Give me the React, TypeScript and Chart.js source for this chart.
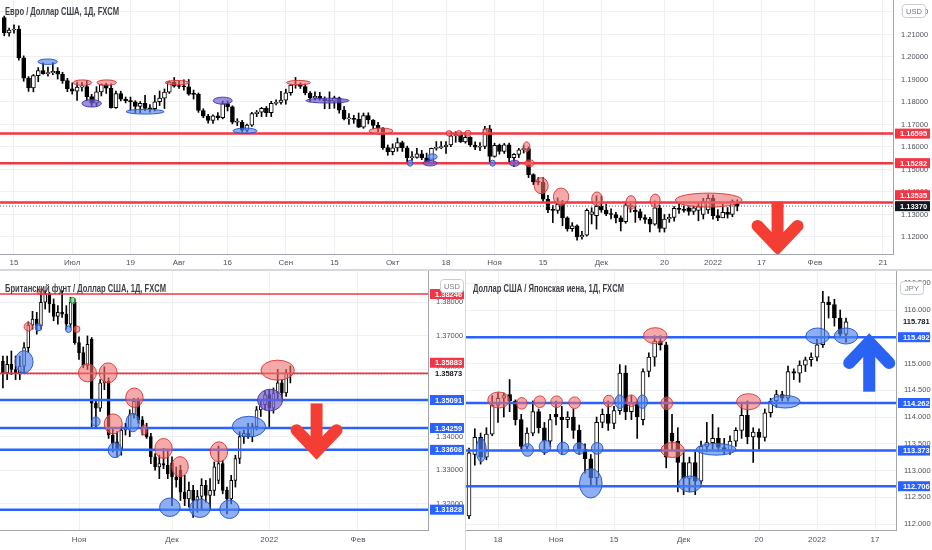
import React, { useEffect, useRef } from "react";
import { Chart, registerables } from "chart.js";

Chart.register(...registerables);

// ================= DATA =================
// day index: 0 = 15 Jun 2021, one step per trading day
// ---- EUR/USD (OHLC from day -2) ----
const eurFirstDay = -2;
const eurOHLC: number[][] = [
  [1.2175, 1.2182, 1.2094, 1.2107], [1.2107, 1.2128, 1.2092, 1.212], [1.212, 1.2143, 1.2106, 1.2124],
  [1.2124, 1.2138, 1.1986, 1.1996], [1.1996, 1.2005, 1.1892, 1.1906], [1.1906, 1.1913, 1.1847, 1.1862],
  [1.1862, 1.1922, 1.1845, 1.1917], [1.1917, 1.1953, 1.189, 1.194], [1.194, 1.1974, 1.1924, 1.1926],
  [1.1926, 1.1955, 1.1915, 1.193], [1.193, 1.1976, 1.1921, 1.1936], [1.1936, 1.1953, 1.1902, 1.1924],
  [1.1924, 1.1932, 1.1883, 1.1895], [1.1895, 1.1905, 1.1846, 1.1858], [1.1858, 1.1885, 1.1835, 1.1848],
  [1.1848, 1.1888, 1.1807, 1.1866], [1.1866, 1.1887, 1.1848, 1.1868], [1.1868, 1.1895, 1.1807, 1.1824],
  [1.1824, 1.1834, 1.1781, 1.1795], [1.1795, 1.1868, 1.1782, 1.1845], [1.1845, 1.188, 1.1827, 1.1877],
  [1.1877, 1.1884, 1.1838, 1.1861], [1.1861, 1.1881, 1.1772, 1.1775], [1.1775, 1.1848, 1.1771, 1.1837],
  [1.1837, 1.1848, 1.1805, 1.1812], [1.1812, 1.1822, 1.1796, 1.1806], [1.1806, 1.1822, 1.1764, 1.1801],
  [1.1801, 1.1806, 1.1753, 1.178], [1.178, 1.1802, 1.1752, 1.1794], [1.1794, 1.183, 1.1761, 1.1771],
  [1.1771, 1.1788, 1.1755, 1.177], [1.177, 1.1829, 1.176, 1.1801], [1.1801, 1.1849, 1.1784, 1.1817],
  [1.1817, 1.1858, 1.1771, 1.1844], [1.1844, 1.1893, 1.1838, 1.1888], [1.1888, 1.1909, 1.1866, 1.187],
  [1.187, 1.1892, 1.186, 1.1869], [1.1869, 1.1899, 1.1853, 1.1867], [1.1867, 1.19, 1.183, 1.1835],
  [1.1835, 1.1853, 1.1813, 1.1834], [1.1834, 1.184, 1.1754, 1.1762], [1.1762, 1.177, 1.173, 1.1737],
  [1.1737, 1.1745, 1.1706, 1.1718], [1.1718, 1.1743, 1.1705, 1.1739], [1.1739, 1.1753, 1.172, 1.173],
  [1.173, 1.1804, 1.1725, 1.1793], [1.1793, 1.1805, 1.176, 1.1778], [1.1778, 1.1783, 1.1703, 1.171],
  [1.171, 1.1726, 1.1695, 1.171], [1.171, 1.1718, 1.1665, 1.1675], [1.1675, 1.1702, 1.1664, 1.1697],
  [1.1697, 1.1754, 1.1691, 1.1748], [1.1748, 1.1762, 1.1735, 1.1755], [1.1755, 1.1776, 1.1735, 1.1772],
  [1.1772, 1.178, 1.1735, 1.1752], [1.1752, 1.1803, 1.1735, 1.1794], [1.1794, 1.181, 1.1787, 1.1798],
  [1.1798, 1.1847, 1.179, 1.1808], [1.1808, 1.1857, 1.179, 1.1841], [1.1841, 1.1878, 1.183, 1.1875],
  [1.1875, 1.1909, 1.1861, 1.188], [1.188, 1.1885, 1.186, 1.1869], [1.1869, 1.188, 1.1832, 1.184],
  [1.184, 1.1846, 1.1801, 1.1818], [1.1818, 1.1845, 1.1808, 1.1825], [1.1825, 1.1843, 1.1808, 1.1813],
  [1.1813, 1.1823, 1.177, 1.1805], [1.1805, 1.1845, 1.177, 1.1804], [1.1804, 1.1826, 1.1772, 1.1818],
  [1.1818, 1.1822, 1.175, 1.1764], [1.1764, 1.178, 1.172, 1.1725], [1.1725, 1.1749, 1.17, 1.1726],
  [1.1726, 1.1741, 1.1705, 1.1723], [1.1723, 1.1751, 1.1686, 1.1688], [1.1688, 1.1751, 1.1683, 1.174],
  [1.174, 1.1752, 1.1703, 1.172], [1.172, 1.1722, 1.1681, 1.1696], [1.1696, 1.171, 1.1667, 1.1683],
  [1.1683, 1.1686, 1.1589, 1.1597], [1.1597, 1.1609, 1.1563, 1.1579], [1.1579, 1.1614, 1.1565, 1.1596],
  [1.1596, 1.164, 1.1581, 1.162], [1.162, 1.1626, 1.158, 1.1596], [1.1596, 1.1604, 1.1529, 1.1553],
  [1.1553, 1.158, 1.154, 1.1554], [1.1554, 1.1594, 1.155, 1.157], [1.157, 1.1585, 1.1544, 1.1552],
  [1.1552, 1.1573, 1.1524, 1.153], [1.153, 1.1595, 1.1525, 1.1594], [1.1594, 1.1624, 1.1586, 1.1597],
  [1.1597, 1.1624, 1.1593, 1.16], [1.16, 1.1624, 1.1571, 1.1609], [1.1609, 1.1669, 1.1601, 1.165],
  [1.165, 1.1668, 1.1621, 1.1655], [1.1655, 1.1666, 1.162, 1.1622], [1.1622, 1.1665, 1.1617, 1.1643],
  [1.1643, 1.1646, 1.1602, 1.1609], [1.1609, 1.1623, 1.1588, 1.1599], [1.1599, 1.162, 1.1584, 1.1603],
  [1.1603, 1.1692, 1.1593, 1.1681], [1.1681, 1.1696, 1.1535, 1.1558], [1.1558, 1.1617, 1.1555, 1.1607],
  [1.1607, 1.1613, 1.1568, 1.158], [1.158, 1.1616, 1.1571, 1.161], [1.161, 1.1617, 1.153, 1.1553],
  [1.1553, 1.1571, 1.1513, 1.1567], [1.1567, 1.1594, 1.1553, 1.1587], [1.1587, 1.1608, 1.1573, 1.1593],
  [1.1593, 1.16, 1.1464, 1.1477], [1.1477, 1.1481, 1.1433, 1.1445], [1.1445, 1.1464, 1.1432, 1.1444],
  [1.1444, 1.1464, 1.1358, 1.1368], [1.1368, 1.1385, 1.1308, 1.132], [1.132, 1.134, 1.1264, 1.1318],
  [1.1318, 1.1374, 1.1305, 1.1345], [1.135, 1.1363, 1.125, 1.1285], [1.1285, 1.129, 1.1226, 1.1237],
  [1.1237, 1.1264, 1.1225, 1.125], [1.125, 1.1254, 1.1186, 1.12], [1.12, 1.1225, 1.119, 1.1208],
  [1.1208, 1.1325, 1.1204, 1.1318], [1.13, 1.133, 1.1258, 1.1312], [1.1295, 1.1383, 1.1235, 1.1336],
  [1.1336, 1.1382, 1.131, 1.132], [1.132, 1.1345, 1.1295, 1.1303], [1.1303, 1.1325, 1.128, 1.13],
  [1.13, 1.131, 1.1262, 1.1285], [1.1285, 1.1294, 1.1227, 1.1268], [1.1268, 1.1355, 1.1261, 1.1343],
  [1.1335, 1.1355, 1.131, 1.1342], [1.1318, 1.1335, 1.1265, 1.1313], [1.1313, 1.1324, 1.1275, 1.1286],
  [1.1286, 1.1298, 1.126, 1.1278], [1.1278, 1.1287, 1.1222, 1.1257], [1.1257, 1.136, 1.1252, 1.133],
  [1.133, 1.134, 1.1222, 1.1238], [1.1238, 1.13, 1.1222, 1.128], [1.128, 1.1302, 1.1265, 1.1287],
  [1.1287, 1.1335, 1.127, 1.1327], [1.1327, 1.1345, 1.1305, 1.1322], [1.1322, 1.1339, 1.131, 1.1318],
  [1.133, 1.1335, 1.1297, 1.1314], [1.1314, 1.1338, 1.13, 1.133], [1.1318, 1.135, 1.1272, 1.1335],
  [1.13, 1.1372, 1.128, 1.136], [1.132, 1.1388, 1.1305, 1.1372], [1.1372, 1.1386, 1.1279, 1.1295],
  [1.1295, 1.1322, 1.1272, 1.1285], [1.1285, 1.1346, 1.1285, 1.131], [1.131, 1.1331, 1.1284, 1.13],
  [1.13, 1.1365, 1.129, 1.136], [1.1345, 1.1365, 1.1316, 1.1337],
];
const eurTimeTicks = [0, 12, 24, 34, 44, 56, 66, 78, 89, 99, 109, 121, 134, 144, 154, 165, 179];
const eurTimeLabels = ["15", "Июл", "19", "Авг", "16", "Сен", "15", "Окт", "18", "Ноя", "15", "Дек", "20", "2022", "17", "Фев", "21"];
const eurPriceTicks = [1.12, 1.13, 1.14, 1.15, 1.16, 1.17, 1.18, 1.19, 1.2, 1.21, 1.22];
const eurRedLevels = [1.16595, 1.15282, 1.13535];
const eurLastPrice = 1.1337;
// [day, price, rx px, ry px, kind]
const eurEllipses: any[] = [
  [6.94, 1.1979, 9.7, 2.7, "b"], [14.1, 1.1886, 9.3, 2.7, "r"], [16.0, 1.1794, 9.7, 3.7, "p"],
  [19.1, 1.1886, 9.7, 2.7, "r"], [27.0, 1.1757, 19, 2.4, "b"], [33.6, 1.1886, 12, 2.2, "r"],
  [43.0, 1.1806, 9.5, 3.5, "p"], [47.6, 1.1672, 12, 2.7, "b"], [58.6, 1.1886, 12, 2.2, "r"],
  [64.6, 1.1806, 21.5, 2.4, "p"], [75.6, 1.1671, 12, 3, "r"], [81.6, 1.1528, 2.7, 3, "b"],
  [85.7, 1.1528, 7, 2.7, "p"], [86.2, 1.1557, 4.7, 2.7, "b"], [89.6, 1.1661, 2.7, 2.7, "r"],
  [91.7, 1.1661, 2.7, 2.7, "r"], [93.5, 1.1661, 3, 3, "r"], [97.4, 1.1668, 3.7, 3.3, "r"],
  [98.6, 1.1528, 2.7, 3, "b"], [103.1, 1.1528, 5, 3, "p"], [105.6, 1.1601, 3.3, 5, "r"],
  [106.2, 1.1528, 4.7, 3.3, "r"], [108.6, 1.1428, 7, 8, "r"], [112.7, 1.1379, 7.7, 8.7, "r"],
  [120.1, 1.1369, 5.3, 7, "r"], [127.1, 1.1354, 5, 6.7, "r"], [132.1, 1.1361, 5, 6.7, "r"],
  [143.1, 1.1364, 33.3, 7, "r"],
];
const eurArrow = [157.3, 1.1357, 1.1156]; // day, tail price, tip price

// ---- GBP/USD (OHLC from day 81) ----
const gbpFirstDay = 81;
const gbpOHLC: number[][] = [
  [1.3625, 1.364, 1.3545, 1.359], [1.359, 1.364, 1.357, 1.3615], [1.3615, 1.3655, 1.3585, 1.36],
  [1.36, 1.364, 1.357, 1.359], [1.359, 1.364, 1.357, 1.361], [1.361, 1.368, 1.359, 1.3665],
  [1.3665, 1.3742, 1.365, 1.3732], [1.3732, 1.3773, 1.372, 1.375], [1.375, 1.377, 1.3705, 1.373],
  [1.373, 1.3832, 1.372, 1.38], [1.38, 1.3834, 1.378, 1.3825], [1.3825, 1.383, 1.377, 1.3795],
  [1.3795, 1.381, 1.3745, 1.3758], [1.3758, 1.379, 1.3735, 1.377], [1.377, 1.3835, 1.3755, 1.3765],
  [1.3765, 1.379, 1.372, 1.3735], [1.3735, 1.3815, 1.3725, 1.38], [1.38, 1.381, 1.3675, 1.368],
  [1.368, 1.3697, 1.363, 1.365], [1.365, 1.3667, 1.3605, 1.3612], [1.3612, 1.37, 1.36, 1.3675],
  [1.369, 1.3695, 1.3425, 1.35], [1.35, 1.351, 1.3425, 1.3485], [1.3485, 1.357, 1.3475, 1.356],
  [1.356, 1.3608, 1.354, 1.3565], [1.3565, 1.3575, 1.3395, 1.3405], [1.3405, 1.3425, 1.3355, 1.338],
  [1.3385, 1.3415, 1.334, 1.3362], [1.3362, 1.343, 1.3345, 1.342], [1.342, 1.344, 1.3405, 1.3425],
  [1.3425, 1.348, 1.34, 1.3465], [1.3465, 1.3514, 1.3455, 1.3505], [1.3505, 1.3515, 1.344, 1.345],
  [1.345, 1.346, 1.3405, 1.3425], [1.3425, 1.344, 1.3395, 1.34], [1.34, 1.341, 1.332, 1.334],
  [1.334, 1.335, 1.33, 1.331], [1.331, 1.3345, 1.3275, 1.332], [1.332, 1.3365, 1.3305, 1.3315],
  [1.3315, 1.336, 1.3275, 1.329], [1.3322, 1.334, 1.3195, 1.328], [1.328, 1.331, 1.325, 1.3272],
  [1.33, 1.3315, 1.321, 1.3235], [1.3235, 1.3285, 1.3195, 1.3215], [1.3215, 1.3265, 1.319, 1.324],
  [1.324, 1.3255, 1.316, 1.321], [1.321, 1.324, 1.3175, 1.3222], [1.3222, 1.3275, 1.3185, 1.3255],
  [1.3255, 1.327, 1.3205, 1.3225], [1.3225, 1.3275, 1.318, 1.324], [1.324, 1.3325, 1.3225, 1.331],
  [1.327, 1.3372, 1.326, 1.332], [1.332, 1.333, 1.323, 1.324], [1.324, 1.325, 1.317, 1.3215],
  [1.3215, 1.3285, 1.32, 1.327], [1.327, 1.3345, 1.325, 1.3335], [1.3335, 1.3415, 1.332, 1.34],
  [1.34, 1.342, 1.338, 1.341], [1.341, 1.344, 1.3395, 1.34], [1.34, 1.344, 1.3385, 1.343],
  [1.343, 1.349, 1.342, 1.348], [1.348, 1.3505, 1.346, 1.3495], [1.3495, 1.3535, 1.348, 1.3525],
  [1.3525, 1.354, 1.343, 1.3485], [1.3485, 1.3545, 1.347, 1.353], [1.353, 1.36, 1.351, 1.356],
  [1.356, 1.357, 1.3505, 1.353], [1.353, 1.36, 1.352, 1.359], [1.359, 1.361, 1.356, 1.3587],
];
const gbpTimeTicks = [99, 121, 144, 165];
const gbpTimeLabels = ["Ноя", "Дек", "2022", "Фев"];
const gbpPriceTicks = [1.32, 1.33, 1.34, 1.35, 1.36, 1.37, 1.38];
const gbpRedLevels = [1.38246, 1.35883];
const gbpBlueLevels = [1.35091, 1.34259, 1.33608, 1.31828];
const gbpLastPrice = 1.35873;
const gbpEllipses: any[] = [
  [86.0, 1.3623, 9, 11, "b"], [87.0, 1.3727, 4.2, 4.2, "r"], [89.4, 1.3726, 3.3, 3.7, "b"],
  [89.9, 1.3832, 3.7, 2.5, "r"], [96.5, 1.372, 3, 3.3, "b"], [97.5, 1.3805, 2.7, 3.3, "g"],
  [98.5, 1.372, 3, 3.3, "r"], [101.0, 1.359, 9, 9, "r"], [103.0, 1.3445, 4.2, 4.7, "b"],
  [105.9, 1.359, 9, 10, "r"], [107.1, 1.3438, 9, 10, "r"], [107.5, 1.336, 6.7, 7.5, "b"],
  [111.7, 1.3442, 6.7, 9.2, "b"], [112.1, 1.3516, 8.7, 9.7, "r"], [114.4, 1.342, 3, 5, "r"],
  [119.0, 1.3365, 8.7, 10, "r"], [120.5, 1.319, 10.3, 9.2, "b"], [122.9, 1.3311, 8.3, 10, "r"],
  [127.6, 1.3187, 10.3, 9.2, "b"], [132.1, 1.3355, 8.7, 10, "r"], [134.6, 1.3184, 9.7, 9.2, "b"],
  [139.2, 1.343, 16.7, 10.3, "b"], [144.2, 1.3509, 12.5, 10.8, "p"], [146.0, 1.3598, 16.7, 10, "r"],
];
const gbpArrow = [155.2, 1.3499, 1.3357];

// ---- USD/JPY (OHLC from day 84) ----
const jpyFirstDay = 84;
const jpyOHLC: number[][] = [
  [112.15, 113.42, 112.1, 113.33], [113.3, 113.78, 113.1, 113.62], [113.62, 113.7, 113.12, 113.25],
  [113.25, 113.8, 113.2, 113.68], [113.68, 114.4, 113.65, 114.22], [114.22, 114.45, 113.9, 114.35],
  [114.35, 114.45, 114.0, 114.4], [114.42, 114.7, 114.1, 114.3], [114.3, 114.32, 113.85, 113.95],
  [113.95, 114.05, 113.4, 113.45], [113.45, 113.8, 113.4, 113.7], [113.7, 114.3, 113.65, 114.1],
  [114.1, 114.15, 113.7, 113.8], [113.8, 113.9, 113.3, 113.55], [113.55, 114.05, 113.45, 113.95],
  [114.05, 114.3, 113.85, 114.0], [114.0, 114.2, 113.3, 113.95], [113.95, 114.1, 113.8, 114.0],
  [114.0, 114.15, 113.6, 113.75], [113.75, 113.85, 113.3, 113.4], [113.4, 113.5, 112.95, 113.22],
  [113.22, 113.3, 112.72, 112.86], [112.86, 114.0, 112.7, 113.9], [113.9, 114.15, 113.8, 114.05],
  [114.05, 114.3, 113.75, 113.88], [113.88, 114.2, 113.78, 114.12], [114.12, 114.98, 114.05, 114.82],
  [114.82, 114.96, 113.95, 114.1], [114.1, 114.4, 113.95, 114.25], [114.25, 114.3, 113.6, 114.0],
  [113.95, 114.9, 113.85, 114.85], [114.85, 115.2, 114.75, 115.12], [115.12, 115.52, 114.95, 115.42],
  [115.42, 115.52, 115.25, 115.35], [115.35, 115.4, 113.05, 113.25], [113.7, 114.05, 113.4, 113.55],
  [113.55, 113.8, 112.6, 113.15], [113.15, 113.35, 112.55, 112.85], [112.85, 113.25, 112.6, 113.15],
  [113.15, 113.35, 112.55, 112.8], [112.8, 113.55, 112.75, 113.45], [113.45, 113.9, 113.35, 113.52],
  [113.52, 114.05, 113.4, 113.6], [113.6, 113.8, 113.35, 113.43], [113.43, 113.6, 113.3, 113.38],
  [113.38, 113.65, 113.3, 113.55], [113.55, 113.8, 113.45, 113.75], [113.75, 114.25, 113.6, 114.03],
  [114.03, 114.3, 113.5, 113.63], [113.63, 113.8, 113.15, 113.72], [113.72, 113.78, 113.4, 113.62],
  [113.62, 114.15, 113.55, 114.08], [114.08, 114.35, 114.0, 114.3], [114.3, 114.5, 114.18, 114.42],
  [114.42, 114.48, 114.3, 114.35], [114.35, 114.95, 114.3, 114.85], [114.85, 114.9, 114.7, 114.82],
  [114.82, 115.05, 114.65, 114.97], [114.97, 115.12, 114.85, 115.07], [115.07, 115.2, 114.95, 115.12],
  [115.12, 115.45, 115.05, 115.35], [115.35, 116.35, 115.3, 116.15], [116.15, 116.25, 115.85, 116.1],
  [116.1, 116.2, 115.7, 115.85], [115.85, 116.0, 115.5, 115.55], [115.55, 115.85, 115.4, 115.78],
];
const jpyTimeTicks = [89, 99, 109, 121, 134, 144, 154];
const jpyTimeLabels = ["18", "Ноя", "15", "Дек", "20", "2022", "17"];
const jpyPriceTicks = [112, 112.5, 113, 113.5, 114, 114.5, 115, 115.5, 116, 116.5];
const jpyBlueLevels = [115.492, 114.262, 113.373, 112.706];
const jpyLastPrice = 115.781;
const jpyEllipses: any[] = [
  [86.1, 113.383, 5, 11.7, "b"], [89.1, 114.318, 10.8, 8, "r"], [93.1, 114.256, 5.3, 5.8, "r"],
  [94.1, 113.383, 5.8, 6.3, "b"], [96.2, 114.286, 5.8, 5.8, "r"], [97.1, 113.445, 5.8, 6.3, "b"],
  [99.1, 114.286, 5.8, 5.8, "r"], [100.2, 113.414, 5.8, 6.3, "b"], [102.2, 114.267, 5.8, 5.8, "r"],
  [103.0, 113.414, 5.8, 5.8, "b"], [105.0, 112.76, 11.3, 14.7, "b"], [106.1, 113.414, 5.8, 5.8, "b"],
  [108.1, 114.299, 5.3, 5.8, "r"], [110.0, 114.286, 5, 6.7, "b"], [112.0, 114.305, 5.3, 5.8, "r"],
  [113.9, 114.286, 5, 6.7, "b"], [116.1, 115.52, 11.7, 8, "r"], [118.1, 114.256, 5.8, 6.3, "r"],
  [119.1, 113.383, 11.7, 7.5, "r"], [122.1, 112.748, 11.3, 8, "b"], [126.6, 113.396, 20, 5.8, "b"],
  [132.2, 114.286, 12, 8, "r"], [138.5, 114.286, 15, 6.3, "b"], [144.1, 115.514, 11.7, 8, "b"],
  [149.0, 115.514, 11.7, 8, "b"],
];
const jpyArrow = [153.0, 114.473, 115.402];

// ================= STYLE =================
const RED = "#f23645";
const BLUE = "#2962ff";
const GRID = "#eef0f4";
const AXIS = "#a3a6ae";
const FONT = "'Liberation Sans', Arial, sans-serif";
const ELL_STYLE: Record<string, string[]> = {
  r: ["rgba(240,112,112,0.6)", "rgba(214,52,52,0.9)"],
  b: ["rgba(82,132,236,0.65)", "rgba(36,86,212,0.95)"],
  p: ["rgba(116,96,206,0.7)", "rgba(74,54,170,0.95)"],
  g: ["rgba(112,200,122,0.65)", "rgba(40,150,60,0.95)"],
};
const LABEL_STYLE: Record<string, string[]> = {
  red: [RED, "#ffffff"],
  blue: [BLUE, "#ffffff"],
  black: ["#131722", "#ffffff"],
  plain: ["#ffffff", "#131722"],
};

function makeDecor(p: any) {
  return {
    id: "decor",
    afterDatasetsDraw(chart: any) {
      const { ctx, chartArea: ca } = chart;
      const xs = chart.scales.x;
      const ys = chart.scales.y;
      ctx.save();
      ctx.beginPath();
      ctx.rect(ca.left, ca.top, ca.right - ca.left, ca.bottom - ca.top);
      ctx.clip();
      for (const l of p.levels) {
        const y = ys.getPixelForValue(l.v);
        ctx.beginPath();
        ctx.strokeStyle = l.color;
        ctx.lineWidth = l.width;
        ctx.setLineDash(l.dash || []);
        ctx.moveTo(ca.left, y);
        ctx.lineTo(ca.right, y);
        ctx.stroke();
      }
      ctx.setLineDash([]);
      for (const e of p.ellipses) {
        const cx = xs.getPixelForValue(e[0]);
        const cy = ys.getPixelForValue(e[1]);
        const st = ELL_STYLE[e[4]];
        ctx.beginPath();
        ctx.ellipse(cx, cy, e[2], e[3], 0, 0, Math.PI * 2);
        ctx.fillStyle = st[0];
        ctx.fill();
        ctx.lineWidth = 1;
        ctx.strokeStyle = st[1];
        ctx.stroke();
      }
      const a = p.arrow;
      const ax = xs.getPixelForValue(a[0]);
      const y0 = ys.getPixelForValue(a[1]);
      const y1 = ys.getPixelForValue(a[2]);
      const dir = y1 > y0 ? 1 : -1;
      ctx.strokeStyle = p.arrowColor;
      ctx.lineWidth = 12;
      ctx.lineCap = "butt";
      ctx.beginPath();
      ctx.moveTo(ax, y0);
      ctx.lineTo(ax, y1);
      ctx.stroke();
      ctx.lineCap = "round";
      ctx.lineJoin = "miter";
      ctx.beginPath();
      ctx.moveTo(ax - 20, y1 - dir * 21);
      ctx.lineTo(ax, y1);
      ctx.lineTo(ax + 20, y1 - dir * 21);
      ctx.stroke();
      ctx.restore();
    },
    afterDraw(chart: any) {
      const { ctx, chartArea: ca } = chart;
      const ys = chart.scales.y;
      ctx.save();
      // price labels on the axis
      const boxH = 11;
      const items = p.labels.map((l: any) => ({ ...l, y: ys.getPixelForValue(l.v) }));
      items.sort((m: any, n: any) => (n.priority ? 1 : 0) - (m.priority ? 1 : 0));
      const placed: any[] = [];
      for (const it of items) {
        for (const q of placed) {
          if (Math.abs(it.y - q.y) < boxH) it.y = it.v > q.v ? q.y - boxH : q.y + boxH;
        }
        placed.push(it);
      }
      const x0 = ys.left + 2;
      const w = chart.width - x0 - 2;
      ctx.font = `bold 7.5px ${FONT}`;
      ctx.textBaseline = "middle";
      ctx.textAlign = "left";
      for (const it of placed) {
        const st = LABEL_STYLE[it.kind];
        ctx.fillStyle = st[0];
        ctx.fillRect(x0, it.y - boxH / 2 + 0.5, w, boxH - 1);
        ctx.fillStyle = st[1];
        ctx.fillText(it.v.toFixed(p.decimals), x0 + 5, it.y + 0.5);
      }
      // currency tag
      const cx = ys.left + p.currencyPos[0];
      const cy = ca.top + p.currencyPos[1];
      ctx.fillStyle = "#ffffff";
      ctx.strokeStyle = "#c9ccd4";
      ctx.lineWidth = 1;
      ctx.beginPath();
      ctx.roundRect(cx + 0.5, cy + 0.5, 23, 13, 3);
      ctx.fill();
      ctx.stroke();
      ctx.fillStyle = "#787b86";
      ctx.font = `7.5px ${FONT}`;
      ctx.textAlign = "center";
      ctx.fillText(p.currency, cx + 12, cy + 7.5);
      // title (horizontally condensed like the reference)
      ctx.textAlign = "left";
      ctx.fillStyle = "#3d3f47";
      ctx.font = `bold 10px ${FONT}`;
      ctx.translate(ca.left + p.titlePos[0], ca.top + p.titlePos[1]);
      ctx.scale(0.76, 1);
      ctx.fillText(p.title, 0, 0);
      ctx.restore();
    },
  };
}

function buildConfig(p: any) {
  const bodies = p.ohlc.map((c: number[], i: number) => ({ x: p.first + i, y: [c[0], c[3]] }));
  const wicks = p.ohlc.map((c: number[], i: number) => ({ x: p.first + i, y: [c[2], c[1]] }));
  const colors = p.ohlc.map((c: number[]) => (c[3] >= c[0] ? "#ffffff" : "#000000"));
  return {
    type: "bar",
    data: {
      datasets: [
        {
          data: bodies, backgroundColor: colors, borderColor: "#000000", borderWidth: 1,
          borderSkipped: false, barThickness: p.bodyWidth, minBarLength: 1, grouped: false, order: 1,
        },
        { data: wicks, backgroundColor: "#000000", borderWidth: 0, barThickness: 1, grouped: false, order: 2 },
      ],
    },
    options: {
      responsive: false,
      animation: false,
      devicePixelRatio: 1,
      events: [],
      layout: { padding: 0 },
      plugins: { legend: { display: false }, tooltip: { enabled: false } },
      scales: {
        x: {
          type: "linear", min: p.xMin, max: p.xMax, offset: false,
          grid: { color: GRID, drawTicks: false, offset: false },
          border: { color: AXIS },
          ticks: {
            autoSkip: false, maxRotation: 0, padding: p.xPad, color: "#50535e",
            font: { family: FONT, size: 8 },
            callback: (v: number) => {
              const i = p.xTicks.indexOf(v);
              return i >= 0 ? p.xLabels[i] : "";
            },
          },
          afterBuildTicks: (axis: any) => { axis.ticks = p.xTicks.map((v: number) => ({ value: v })); },
          afterFit: (axis: any) => {
            axis.height = p.xAxisH; axis.paddingLeft = 0; axis.paddingRight = 0;
          },
        },
        y: {
          type: "linear", position: "right", min: p.yMin, max: p.yMax,
          grid: { color: GRID, drawTicks: false },
          border: { color: AXIS },
          ticks: {
            padding: p.yPad, color: "#50535e", font: { family: FONT, size: 7.5 },
            callback: (v: number) => Number(v).toFixed(p.decimals),
          },
          afterBuildTicks: (axis: any) => { axis.ticks = p.yTicks.map((v: number) => ({ value: v })); },
          afterFit: (axis: any) => {
            axis.width = p.axisW; axis.paddingTop = 0; axis.paddingBottom = 0;
          },
        },
      },
    },
    plugins: [makeDecor(p)],
  };
}

const eurPanel = {
  first: eurFirstDay, ohlc: eurOHLC, bodyWidth: 4,
  xMin: -2.88, xMax: 181.08, yMin: 1.11244, yMax: 1.22533,
  xTicks: eurTimeTicks, xLabels: eurTimeLabels, yTicks: eurPriceTicks, decimals: 5,
  axisW: 39, xAxisH: 16, xPad: 4, yPad: 8,
  levels: [
    ...eurRedLevels.map((v) => ({ v, color: RED, width: 2.5 })),
    { v: eurLastPrice, color: "#5d606b", width: 1, dash: [1, 2] },
  ],
  ellipses: eurEllipses, arrow: eurArrow, arrowColor: "#f43d33",
  labels: [
    ...eurRedLevels.map((v) => ({ v, kind: "red" })),
    { v: eurLastPrice, kind: "black", priority: true },
  ],
  title: "Евро / Доллар США, 1Д, FXCM", titlePos: [5, 12],
  currency: "USD", currencyPos: [9, 4],
};

const gbpPanel = {
  first: gbpFirstDay, ohlc: gbpOHLC, bodyWidth: 3,
  xMin: 80.31, xMax: 181.56, yMin: 1.31223, yMax: 1.38961,
  xTicks: gbpTimeTicks, xLabels: gbpTimeLabels, yTicks: gbpPriceTicks, decimals: 5,
  axisW: 38, xAxisH: 20, xPad: 5, yPad: 8,
  levels: [
    ...gbpRedLevels.map((v) => ({ v, color: RED, width: 1.6 })),
    ...gbpBlueLevels.map((v) => ({ v, color: BLUE, width: 2.5 })),
    { v: gbpLastPrice, color: "#5d606b", width: 1, dash: [1, 2] },
  ],
  ellipses: gbpEllipses, arrow: gbpArrow, arrowColor: "#f43d33",
  labels: [
    ...gbpRedLevels.map((v) => ({ v, kind: "red" })),
    ...gbpBlueLevels.map((v) => ({ v, kind: "blue" })),
    { v: gbpLastPrice, kind: "plain", priority: true },
  ],
  title: "Британский фунт / Доллар США, 1Д, FXCM", titlePos: [5, 19],
  currency: "USD", currencyPos: [12, 9],
};

const jpyPanel = {
  first: jpyFirstDay, ohlc: jpyOHLC, bodyWidth: 4,
  xMin: 83.48, xMax: 157.62, yMin: 111.888, yMax: 116.748,
  xTicks: jpyTimeTicks, xLabels: jpyTimeLabels, yTicks: jpyPriceTicks, decimals: 3,
  axisW: 36, xAxisH: 20, xPad: 5, yPad: 8,
  levels: jpyBlueLevels.map((v) => ({ v, color: BLUE, width: 2.4 })),
  ellipses: jpyEllipses, arrow: jpyArrow, arrowColor: "#2a62f4",
  labels: [
    ...jpyBlueLevels.map((v) => ({ v, kind: "blue" })),
    { v: jpyLastPrice, kind: "plain", priority: true },
  ],
  title: "Доллар США / Японская иена, 1Д, FXCM", titlePos: [7, 19],
  currency: "JPY", currencyPos: [4, 11],
};

function Panel(props: { cfg: any; left: number; top: number; width: number; height: number }) {
  const ref = useRef<HTMLCanvasElement>(null);
  useEffect(() => {
    const chart = new Chart(ref.current as HTMLCanvasElement, buildConfig(props.cfg) as any);
    return () => chart.destroy();
  }, []);
  return (
    <div style={{ position: "absolute", left: props.left, top: props.top, width: props.width, height: props.height }}>
      <canvas ref={ref} width={props.width} height={props.height}
        style={{ display: "block", width: props.width, height: props.height }} />
    </div>
  );
}

export default function App() {
  return (
    <div style={{ position: "absolute", left: 0, top: 0, width: 932, height: 550, background: "#ffffff", overflow: "hidden" }}>
      <Panel cfg={eurPanel} left={0} top={0} width={932} height={270} />
      <Panel cfg={gbpPanel} left={0} top={270} width={466} height={280} />
      <Panel cfg={jpyPanel} left={466} top={270} width={466} height={280} />
      <div style={{ position: "absolute", left: 0, top: 269, width: 932, height: 2, background: "#d6d8de" }} />
      <div style={{ position: "absolute", left: 465, top: 270, width: 1, height: 280, background: "#d6d8de" }} />
    </div>
  );
}
